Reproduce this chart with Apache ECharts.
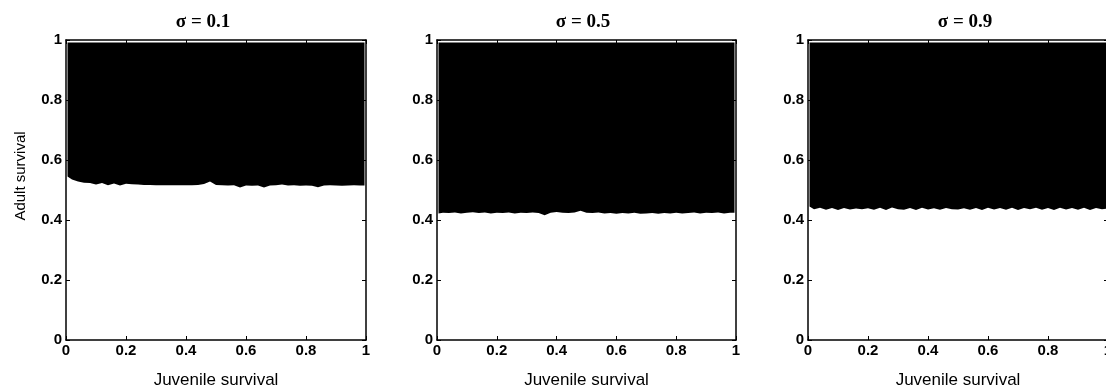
<!DOCTYPE html>
<html>
<head>
<meta charset="utf-8">
<script src="https://cdn.jsdelivr.net/npm/echarts@6/dist/echarts.min.js"></script>
<style>html,body{margin:0;padding:0;background:#fff;}#c{width:1106px;height:389px;}</style>
</head>
<body>
<div id="c"></div>
<script>
// Juvenile survival sample points (shared by all panels)
var juvenile = [0.005,0.02,0.04,0.06,0.08,0.10,0.12,0.14,0.16,0.18,0.20,0.22,0.24,0.26,0.28,0.30,0.32,0.34,0.36,0.38,0.40,0.42,0.44,0.46,0.48,0.50,0.52,0.54,0.56,0.58,0.60,0.62,0.64,0.66,0.68,0.70,0.72,0.74,0.76,0.78,0.80,0.82,0.84,0.86,0.88,0.90,0.92,0.94,0.96,0.98,0.995];
// Lower boundary of the (black) region in adult survival, per panel
var boundary01 = [0.545,0.535,0.528,0.524,0.523,0.518,0.523,0.516,0.522,0.515,0.521,0.519,0.518,0.517,0.517,0.516,0.516,0.516,0.516,0.516,0.516,0.516,0.517,0.520,0.528,0.517,0.516,0.515,0.516,0.508,0.515,0.514,0.515,0.508,0.515,0.516,0.518,0.515,0.516,0.514,0.515,0.514,0.509,0.515,0.516,0.515,0.514,0.515,0.516,0.515,0.515];
var boundary05 = [0.422,0.424,0.423,0.425,0.422,0.424,0.426,0.423,0.425,0.422,0.424,0.423,0.425,0.422,0.424,0.423,0.425,0.423,0.416,0.424,0.427,0.424,0.423,0.425,0.431,0.424,0.423,0.425,0.422,0.423,0.421,0.423,0.422,0.424,0.421,0.422,0.423,0.421,0.423,0.422,0.424,0.422,0.423,0.425,0.422,0.424,0.423,0.425,0.422,0.424,0.424];
var boundary09 = [0.445,0.436,0.441,0.434,0.440,0.433,0.440,0.435,0.438,0.436,0.439,0.434,0.441,0.433,0.442,0.436,0.434,0.440,0.433,0.441,0.435,0.439,0.434,0.440,0.436,0.435,0.439,0.434,0.440,0.433,0.441,0.435,0.440,0.434,0.441,0.433,0.440,0.436,0.441,0.434,0.440,0.433,0.441,0.435,0.440,0.434,0.441,0.433,0.440,0.436,0.438];
var titles = ['\u03c3 = 0.1', '\u03c3 = 0.5', '\u03c3 = 0.9'];
var boundaries = [boundary01, boundary05, boundary09];
var topEdge = 0.992;

var grids = [
  {left: 66, top: 40, width: 300, height: 300, outerBoundsMode: 'none', containLabel: false},
  {left: 437, top: 40, width: 299, height: 300, outerBoundsMode: 'none', containLabel: false},
  {left: 808, top: 40, width: 300, height: 300, outerBoundsMode: 'none', containLabel: false}
];
var titleX = [203, 583, 965];

var xAxes = [], yAxes = [], series = [], graphics = [];
var labelFont = {color: '#000', fontFamily: 'Liberation Sans, Arial', fontWeight: 'bold', fontSize: 15};
grids.forEach(function (g, i) {
  var line = {show: true, onZero: false, lineStyle: {color: '#000', width: 1.5}};
  var tick = {show: true, inside: true, length: 4, lineStyle: {color: '#000', width: 1}};
  xAxes.push({gridIndex: i, type: 'value', min: 0, max: 1, interval: 0.2, position: 'bottom',
    axisLine: line, axisTick: tick, splitLine: {show: false},
    axisLabel: Object.assign({margin: 3}, labelFont),
    name: 'Juvenile survival', nameLocation: 'middle', nameGap: 32,
    nameTextStyle: {color: '#000', fontFamily: 'Liberation Sans, Arial', fontSize: 17}});
  xAxes.push({gridIndex: i, type: 'value', min: 0, max: 1, interval: 0.2, position: 'top',
    axisLine: line, axisTick: tick, splitLine: {show: false}, axisLabel: {show: false}});
  var yl = {gridIndex: i, type: 'value', min: 0, max: 1, interval: 0.2, position: 'left',
    axisLine: line, axisTick: tick, splitLine: {show: false},
    axisLabel: Object.assign({margin: 4}, labelFont)};
  if (i === 0) {
    yl.name = 'Adult survival'; yl.nameLocation = 'middle'; yl.nameGap = 38;
    yl.nameTextStyle = {color: '#000', fontFamily: 'Liberation Sans, Arial', fontSize: 15, padding: [0, 0, 0, 28]};
  }
  yAxes.push(yl);
  yAxes.push({gridIndex: i, type: 'value', min: 0, max: 1, interval: 0.2, position: 'right',
    axisLine: line, axisTick: tick, splitLine: {show: false}, axisLabel: {show: false}});
  var b = boundaries[i];
  series.push({type: 'line', xAxisIndex: 2 * i, yAxisIndex: 2 * i, symbol: 'none',
    lineStyle: {width: 0}, areaStyle: {color: '#000', opacity: 1, origin: topEdge}, silent: true, animation: false,
    data: juvenile.map(function (x, k) { return [x, b[k]]; })});
  graphics.push({type: 'text', x: titleX[i], y: 22,
    style: {text: titles[i], fill: '#000', font: 'bold 19px "Liberation Serif", "Times New Roman", serif',
      textAlign: 'center', textVerticalAlign: 'middle'}});
});

var chart = echarts.init(document.getElementById('c'), null, {renderer: 'canvas'});
chart.setOption({
  backgroundColor: '#fff',
  animation: false,
  grid: grids,
  xAxis: xAxes,
  yAxis: yAxes,
  series: series,
  graphic: graphics
});
</script>
</body>
</html>
